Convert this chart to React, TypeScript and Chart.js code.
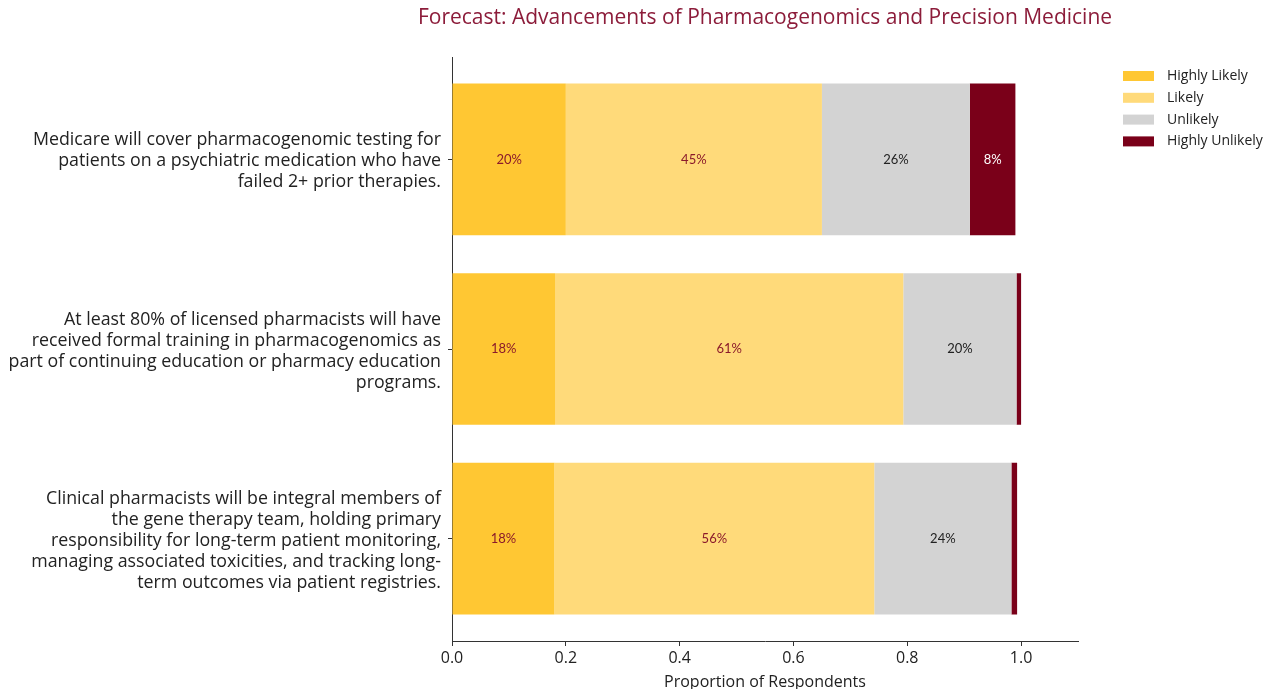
import React, { useEffect, useRef } from "react";
import { Chart, registerables } from "chart.js";

Chart.register(...registerables);

const FONT = "'Open Sans', sans-serif";
const LABEL_FONT = "Lato, sans-serif";

const chartTitle = "Forecast: Advancements of Pharmacogenomics and Precision Medicine";
const xAxisTitle = "Proportion of Respondents";

const statements: string[][] = [
  [
    "Medicare will cover pharmacogenomic testing for",
    "patients on a psychiatric medication who have",
    "failed 2+ prior therapies.",
  ],
  [
    "At least 80% of licensed pharmacists will have",
    "received formal training in pharmacogenomics as",
    "part of continuing education or pharmacy education",
    "programs.",
  ],
  [
    "Clinical pharmacists will be integral members of",
    "the gene therapy team, holding primary",
    "responsibility for long-term patient monitoring,",
    "managing associated toxicities, and tracking long-",
    "term outcomes via patient registries.",
  ],
];

const seriesNames = ["Highly Likely", "Likely", "Unlikely", "Highly Unlikely"];
const highlyLikely = [0.2, 0.181, 0.18];
const likely = [0.45, 0.612, 0.562];
const unlikely = [0.26, 0.199, 0.241];
const highlyUnlikely = [0.08, 0.008, 0.01];
const xTicks = [0, 0.2, 0.4, 0.6, 0.8, 1.0];

const seriesColors = ["#FFC733", "#FFDA7A", "#D3D3D3", "#7A0019"];
const labelColors = ["#8B1A2B", "#8B1A2B", "#222222", "#FFFFFF"];

const seriesValues = [highlyLikely, likely, unlikely, highlyUnlikely];

const overlayPlugin = {
  id: "overlay",
  afterDatasetsDraw(chart: any) {
    const ctx = chart.ctx;
    ctx.save();
    ctx.font = `13px ${LABEL_FONT}`;
    ctx.textAlign = "center";
    ctx.textBaseline = "middle";
    chart.data.datasets.forEach((ds: any, di: number) => {
      const meta = chart.getDatasetMeta(di);
      meta.data.forEach((el: any, i: number) => {
        const v = ds.data[i].x;
        if (v < 0.05) return;
        const c = el.getCenterPoint();
        ctx.fillStyle = labelColors[di];
        ctx.fillText(`${Math.round(v * 100)}%`, c.x, c.y);
      });
    });
    ctx.restore();
  },
  afterDraw(chart: any) {
    const ctx = chart.ctx;
    const area = chart.chartArea;
    ctx.save();
    // title
    ctx.font = `21px ${FONT}`;
    ctx.fillStyle = "#8C1C3A";
    ctx.textAlign = "center";
    ctx.textBaseline = "middle";
    ctx.fillText(chartTitle, (area.left + area.right) / 2, 18);
    // legend
    ctx.font = `14px ${FONT}`;
    ctx.textAlign = "left";
    seriesNames.forEach((name, i) => {
      const cy = 76 + i * 21.8;
      ctx.fillStyle = seriesColors[i];
      ctx.fillRect(1123, cy - 5, 31, 10);
      ctx.fillStyle = "#222222";
      ctx.fillText(name, 1167, cy);
    });
    ctx.restore();
  },
};

export default function App() {
  const ref = useRef<HTMLCanvasElement | null>(null);

  useEffect(() => {
    if (!ref.current) return;
    Chart.defaults.font.family = FONT;
    const chart = new Chart(ref.current, {
      type: "bar",
      data: {
        datasets: seriesNames.map((name, si) => ({
          label: name,
          data: seriesValues[si].map((v, i) => ({ x: v, y: i })),
          backgroundColor: seriesColors[si],
          borderWidth: 0,
          categoryPercentage: 1,
          barPercentage: 0.8,
        })),
      },
      options: {
        indexAxis: "y",
        responsive: false,
        animation: false,
        devicePixelRatio: 1,
        layout: { padding: { left: 0, right: 197, top: 57, bottom: 0 } },
        plugins: {
          legend: { display: false },
          title: { display: false },
          tooltip: { enabled: false },
        },
        scales: {
          x: {
            type: "linear",
            stacked: true,
            min: 0,
            max: 1.1,
            afterBuildTicks: (s: any) => {
              s.ticks = xTicks.map((v) => ({ value: v }));
            },
            afterFit: (s: any) => {
              s.height = 48;
              s.paddingLeft = 0;
              s.paddingRight = 0;
            },
            ticks: {
              callback: (v: any) => Number(v).toFixed(1),
              font: { size: 16 },
              color: "#222222",
              padding: 3,
              maxRotation: 0,
              autoSkip: false,
            },
            grid: {
              display: true,
              drawOnChartArea: false,
              drawTicks: true,
              tickLength: 5,
              color: "#333333",
            },
            border: { display: true, color: "#333333", width: 1 },
            title: {
              display: true,
              text: xAxisTitle,
              font: { size: 16, lineHeight: "16px" },
              padding: { top: 0, bottom: -1 },
              color: "#222222",
            },
          },
          y: {
            type: "linear",
            stacked: true,
            reverse: true,
            offset: false,
            min: -0.54,
            max: 2.54,
            afterBuildTicks: (s: any) => {
              s.ticks = statements.map((_, i) => ({ value: i }));
            },
            afterFit: (s: any) => {
              s.width = 452;
              s.paddingTop = 0;
              s.paddingBottom = 0;
            },
            ticks: {
              callback: (v: any) => statements[Math.round(Number(v))],
              font: { size: 17.8, lineHeight: "21px" },
              color: "#222222",
              padding: 7,
              labelOffset: 2,
              autoSkip: false,
            },
            grid: {
              display: true,
              offset: false,
              drawOnChartArea: false,
              drawTicks: true,
              tickLength: 4,
              color: "#333333",
            },
            border: { display: true, color: "#333333", width: 1 },
          },
        },
      },
      plugins: [overlayPlugin],
    } as any);
    return () => chart.destroy();
  }, []);

  return (
    <div style={{ position: "absolute", left: 0, top: 0, width: 1275, height: 689, background: "#fff" }}>
      <canvas ref={ref} width={1275} height={689} style={{ width: 1275, height: 689, display: "block" }} />
    </div>
  );
}
